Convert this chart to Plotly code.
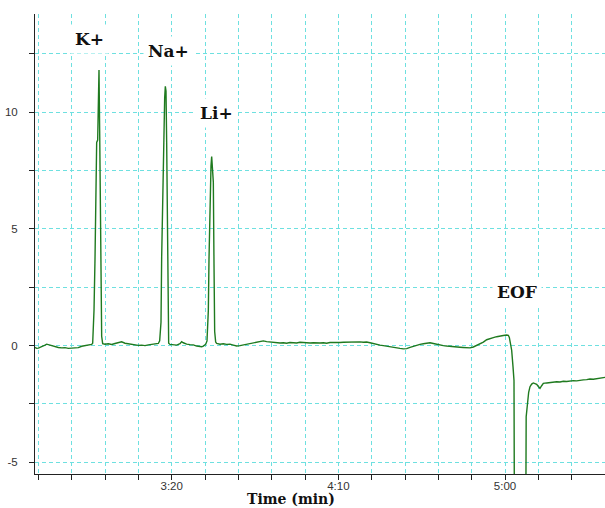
import plotly.graph_objects as go

# ---- data (time in seconds, signal in arbitrary units) ----
time_s = [
    159, 159.5, 160, 161, 162, 162.5, 163, 164, 165, 166, 167, 168, 169, 170, 171, 172, 173, 174, 175, 176,
    # K+
    176.3, 176.7, 177.0, 177.2, 177.4, 177.5, 177.8, 178.0, 178.2, 178.4, 178.6, 178.8, 179.0, 179.3,
    180, 181, 182, 183, 184, 185, 186, 187, 188, 189, 190, 191, 192, 193, 194, 195, 196,
    # Na+
    196.4, 196.8, 197.0, 197.2, 197.4, 197.6, 197.9, 198.1, 198.3, 198.5, 198.7, 198.9, 199.1,
    199.5, 200.5, 201.5, 202.5, 203, 203.5, 204.5, 205.5, 206.5, 207.5, 208.5, 209, 209.5, 210.2,
    # Li+
    210.6, 211.0, 211.2, 211.4, 211.6, 211.8, 212.0, 212.3, 212.5, 212.7, 212.9, 213.2,
    213.5, 214.5, 215.5, 216.5, 217.5, 218.5, 219.5, 220.5, 221.5, 222.5, 223.5, 224.5, 225.5, 226.5,
    227.5, 228.5, 229.5, 230.5, 231.5, 232.5, 233.5, 234.5, 235.5, 236.5, 237.5, 238.5, 239.5, 240.5,
    241.5, 242.5, 243.5, 244.5, 245.5, 246.5, 247.5, 248.5, 249.5, 250.5, 251.5, 252.5, 253.5, 254.5,
    255.5, 256.5, 257.5, 258.5, 259.5, 260.5, 261.5, 262.5, 263.5, 264.5, 265.5, 266.5, 267.5, 268.5,
    269.5, 270.5, 271.5, 272.5, 273.5, 274.5, 275.5, 276.5, 277.5, 278.5, 279.5, 280.5, 281.5, 282.5,
    283.5, 284.5, 285.5, 286.5, 287.5, 288.5, 289.5, 290.5, 291.5, 292.5, 293.5, 294.5, 295.5, 296.5,
    297.5, 298.5, 299.5, 300.5, 301.0, 301.3, 301.7, 302.0, 302.4, 302.7, 302.85,
    # EOF dip and recovery
    306.2, 306.35, 306.6, 306.8, 307.1, 307.5, 308.0, 308.5, 309.0, 309.5, 310.0, 310.5, 311.0, 311.5,
    312.5, 313.5, 314.5, 315.5, 316.5, 317.5, 318.5, 319.5, 320.5, 321.5, 322.5, 323.5, 324.5, 325.5,
    326.5, 327.5, 328.5, 329.5, 330,
]
signal = [
    -0.08, -0.12, -0.11, -0.06, 0.02, 0.06, 0.04, -0.02, -0.06, -0.08, -0.10, -0.09, -0.12, -0.11, -0.08, -0.09, -0.03, -0.01, 0.02, 0.05,
    0.1, 1.5, 3.7, 6.2, 6.3, 8.7, 8.8, 11.2, 11.8, 9.2, 6.0, 2.0, 0.4, 0.08,
    0.06, 0.08, 0.05, 0.09, 0.11, 0.16, 0.10, 0.07, 0.05, 0.03, 0.01, 0.02, 0.00, 0.03, 0.04, 0.07, 0.09,
    0.2, 1.0, 3.8, 5.7, 7.8, 8.7, 10.6, 11.1, 10.9, 8.7, 4.5, 0.8, 0.1,
    0.05, 0.04, 0.02, 0.08, 0.17, 0.12, 0.06, 0.04, 0.03, -0.02, -0.03, -0.05, -0.02, 0.05,
    0.2, 1.5, 3.7, 5.5, 5.6, 7.7, 8.1, 7.6, 7.0, 3.5, 0.6, 0.15,
    0.09, 0.06, 0.08, 0.05, 0.06, 0.02, -0.02, 0.00, 0.03, 0.05, 0.07, 0.10, 0.14, 0.18,
    0.20, 0.17, 0.15, 0.12, 0.13, 0.11, 0.12, 0.10, 0.13, 0.12, 0.11, 0.14, 0.12, 0.13,
    0.11, 0.12, 0.10, 0.11, 0.12, 0.10, 0.13, 0.12, 0.11, 0.13, 0.14, 0.15, 0.16, 0.14,
    0.15, 0.16, 0.14, 0.15, 0.12, 0.08, 0.05, 0.02, 0.00, -0.03, -0.05, -0.08, -0.10, -0.12,
    -0.14, -0.13, -0.08, -0.03, 0.02, 0.05, 0.08, 0.10, 0.12, 0.09, 0.05, 0.02, 0.00, -0.02,
    -0.04, -0.06, -0.05, -0.07, -0.08, -0.09, -0.10, -0.06, 0.00, 0.07, 0.15, 0.25, 0.31, 0.34,
    0.38, 0.42, 0.43, 0.45, 0.44, 0.35, 0.10, -0.2, -0.9, -1.5, -9.0,
    -9.0, -3.05, -2.7, -2.3, -2.0, -1.76, -1.65, -1.60, -1.63, -1.66, -1.75, -1.83, -1.72, -1.62,
    -1.60, -1.58, -1.59, -1.55, -1.56, -1.53, -1.54, -1.51, -1.50, -1.51, -1.48, -1.47, -1.46, -1.43,
    -1.44, -1.41, -1.38, -1.37, -1.36,
]

x_tick_vals = list(range(160, 331, 10))
x_tick_labels = {200: "3:20", 250: "4:10", 300: "5:00"}
y_tick_vals = [-5, -2.5, 0, 2.5, 5, 7.5, 10, 12.5]
y_tick_labels = {-5: "-5", 0: "0", 5: "5", 10: "10"}

peak_labels = ["K+", "Na+", "Li+", "EOF"]
peak_label_x = [175.2, 198.9, 213.3, 303.6]
peak_label_y = [13.15, 12.6, 9.95, 2.3]

grid_color = "#6ee0e0"
label_font = dict(family="DejaVu Serif", size=17, color="#111111")

fig = go.Figure()
fig.add_trace(go.Scatter(
    x=time_s, y=signal, mode="lines",
    line=dict(color="#1f7a1f", width=1.4),
    showlegend=False, hoverinfo="skip",
))

for txt, lx, ly in zip(peak_labels, peak_label_x, peak_label_y):
    fig.add_annotation(
        x=lx, y=ly, xref="x", yref="y", text=f"<b>{txt}</b>", showarrow=False,
        font=label_font, bgcolor="white", borderpad=4,
    )

fig.add_annotation(
    x=(291 - 35) / 570, y=-(498.5 - 474) / 460, xref="paper", yref="paper",
    text="<b>Time (min)</b>", showarrow=False, yanchor="middle",
    font=dict(family="DejaVu Serif", size=14, color="#111111"),
)

axis_common = dict(
    showgrid=True, gridcolor=grid_color, gridwidth=1, griddash="4px,3px",
    zeroline=False, showline=True, linecolor="#222222", linewidth=1,
    ticks="outside", ticklen=5, tickcolor="#222222",
    tickfont=dict(family="Liberation Sans", size=11.5, color="#333333"),
)

fig.update_layout(
    width=605, height=508,
    margin=dict(l=35, r=0, t=14, b=34),
    plot_bgcolor="white", paper_bgcolor="white",
    xaxis=dict(
        range=[159, 330],
        tickmode="array", tickvals=x_tick_vals,
        ticktext=[x_tick_labels.get(v, "") for v in x_tick_vals],
        ticklabelstandoff=-4,
        **axis_common,
    ),
    yaxis=dict(
        range=[-5.5, 14.2],
        tickmode="array", tickvals=y_tick_vals,
        ticktext=[y_tick_labels.get(v, "") for v in y_tick_vals],
        ticklabelstandoff=9,
        **axis_common,
    ),
)

fig.write_html(
    "out.html",
    config={"displayModeBar": False},
    post_script="document.body.style.margin='0';document.body.style.overflow='hidden';",
)
